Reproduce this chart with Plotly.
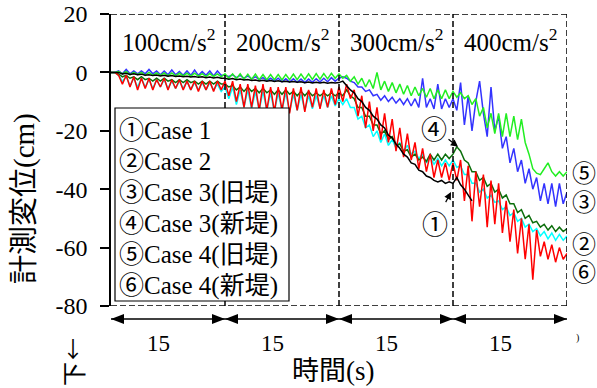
import plotly.graph_objects as go

# ---------------- data (cm), sampled every 0.5 s ----------------
dt = 0.5
segment_edges = [0, 15, 30, 45, 60]
segment_labels = ["100cm/s<sup>2</sup>", "200cm/s<sup>2</sup>", "300cm/s<sup>2</sup>", "400cm/s<sup>2</sup>"]
segment_durations = ["15", "15", "15", "15"]
y_ticks = [20, 0, -20, -40, -60, -80]
y_tick_labels = ["20", "0", "-20", "-40", "-60", "-80"]

# Case 1 (black)
black_s1 = [0, 0, 0, -0.5, -0.3, -0.7, -0.5, -0.8, -0.6, -1, -0.8, -1.1, -0.9, -1.2, -1, -1.3, -1.1, -1.4, -1.2, -1.5, -1.3, -1.6, -1.4, -1.7, -1.5, -1.8, -1.6, -1.9, -1.7, -2]
black_s2 = [-2, -2.3, -2.1, -2.5, -2.3, -2.6, -2.4, -2.8, -2.6, -2.9, -2.7, -3, -2.8, -3.1, -2.9, -3.2, -3, -3.3, -3.1, -3.4, -3.2, -3.5, -3.3, -3.6, -3.4, -3.6, -3.4, -3.7, -3.5, -3.6]
black_s3 = [-3.5, -3, -4.5, -6, -7, -9, -10, -12, -13, -15, -16, -18, -19, -21.5, -22.5, -24.5, -26, -28, -29, -31, -31.5, -33.5, -34, -35.5, -36, -37, -37.5, -37, -38, -37.5]
black_s4 = [-38, -36, -38.5, -40, -42, -44]

# Case 2 (cyan)
cyan_s1 = [0, 0, -1, -3, -1.5, -4.5, -2, -5, -2, -5, -2.5, -5.5, -2.5, -5, -2.5, -5.5, -3, -5.5, -3, -5.5, -3, -6, -3.5, -6, -3.5, -6, -3.5, -6, -4, -6.5]
cyan_s2 = [-5, -9, -5, -11, -6, -12, -6, -12.5, -6.5, -13, -6.5, -13, -7, -13.5, -7, -13, -7, -13.5, -7.5, -13, -7.5, -13, -8, -12.5, -8, -12, -8, -12, -8, -11.5]
cyan_s3 = [-9, -11, -9, -12, -12, -16, -15, -19, -18, -22, -20, -24, -21, -25, -23, -26, -24, -27, -25, -28, -27, -29.5, -28, -31, -29, -31.5, -29.5, -32, -30, -32]
cyan_s4 = [-30, -32.5, -32, -35, -35, -38, -38, -41, -40, -43, -42, -44.5, -44, -47, -46, -49, -48, -51, -50, -53, -52, -54.5, -53.5, -56, -54.5, -57, -55, -57.5, -55.5, -57.5, -56]

# Case 3 old levee (blue)
blue_s1 = [0, 0, 0.5, -0.5, 1, -0.5, 0.5, -0.5, 0.5, -0.5, 1, -0.5, 0.5, -0.8, 0.5, -0.8, 0.8, -0.8, 0.3, -1, 0.5, -1, 0.8, -1, 0.3, -1, 0.5, -1.2, 0.5, -1]
blue_s2 = [-1, -1.5, -0.8, -1.8, -1, -2, -1.2, -2.2, -1.5, -2.5, -1.8, -2.8, -2, -3, -2, -3.2, -2.2, -3.3, -2.2, -3.4, -2.3, -3.5, -2.3, -3.4, -2.2, -3.3, -2, -3.2, -1.8, -3]
blue_s3 = [-2, -1.5, -2, -3, -3.5, -5, -5, -6.5, -6, -8, -7.5, -9.5, -8, -10, -8.5, -10.5, -9, -11, -9, -11.5, -9, -12, -2, -12, -9, -12.5, -4, -12.5, -9, -12]
blue_s4 = [-9, -13, -3.5, -18, -8, -20, -10, -3, -14, -22, -5, -20, -15, -26, -22, -31, -26, -34, -30, -38, -33, -40, -36, -44, -38, -45, -38, -46, -38, -45, -41]

# Case 3 new levee (dark green)
dgreen_s1 = [0, 0, -0.5, -1.5, -1, -2, -1.5, -2.5, -1.5, -2.5, -2, -3, -2, -3, -2, -3, -2.5, -3.5, -2.5, -3.5, -2.5, -3.5, -3, -4, -3, -4, -3, -4, -3, -4]
dgreen_s2 = [-4, -5, -4.5, -6, -5, -6.5, -5, -6.5, -5.5, -7, -5.5, -7, -6, -7.5, -6, -7.5, -6, -7.5, -6.5, -8, -6.5, -8, -6.5, -8, -7, -8, -7, -8, -7, -8]
dgreen_s3 = [-7, -8, -6, -8, -9, -12, -12, -15, -15, -18, -18, -21, -20, -23, -22, -25, -24.5, -27, -26.5, -29, -28, -30, -29, -30.5, -28, -30, -28, -30, -28, -29.5]
dgreen_s4 = [-28, -25.5, -27, -30, -31, -34, -34, -37, -36, -39, -38, -41, -40, -43, -42, -45, -45, -48, -47, -50, -49, -51.5, -51, -53, -52, -54, -52.5, -54.5, -53, -54.5, -53.5]

# Case 4 old levee (lime)
lime_s1 = [0, 0, 0.3, -0.5, 0.3, -0.8, 0, -0.8, 0, -1, 0, -1, -0.2, -1, -0.2, -1.2, -0.2, -1.2, -0.3, -1.2, -0.3, -1.3, -0.3, -1.3, -0.4, -1.4, -0.4, -1.4, -0.5, -1.5]
lime_s2 = [-0.5, -2, -0.5, -2.2, -0.5, -2.3, -0.6, -2.4, -0.6, -2.5, -0.7, -2.5, -0.7, -2.5, -0.7, -2.6, -0.7, -2.5, -0.6, -2.5, -0.6, -2.4, -0.5, -2.4, -0.4, -2.3, -0.4, -2.2, -0.3, -2]
lime_s3 = [-0.5, -2, -1, -3, -1.5, -4, -2, -5, -2.5, -5.5, 0, -6, -3, -6.5, -3.5, -7, -4, -7.5, -4.5, -8, -5, -8, -5.5, -8.5, -5.5, -9, -6, -9, -6, -9]
lime_s4 = [-6.5, -8.5, -7, -9, -8, -11, -9, -15, -12, -19, -14, -21, -14, -22, -14, -22, -15, -23, -16, -24, -28, -33, -34.5, -35, -33, -31, -34, -35.5, -34, -35.5, -34]

# Case 4 new levee (red)
red_s1 = [0, 0, -1, -4, -1, -5, -1.5, -6, -2, -5.5, -2, -6, -2.5, -5, -2, -6, -2.5, -5.5, -2.5, -6, -3, -6, -3, -6.5, -3, -6, -3, -6.5, -3, -6]
red_s2 = [-3, -8, -3, -10, -4, -12, -4, -12, -4.5, -13, -4, -13, -5, -13.5, -5, -13, -5, -14, -5.5, -13, -5, -13.5, -6, -12, -5.5, -12.5, -6, -12, -5.5, -11]
red_s3 = [-5, -10, -4, -9, -6, -15, -8, -19, -10, -20, -12, -23, -14, -24, -16, -27, -19, -29, -21, -30, -24, -33, -26, -34, -28, -36, -30, -36, -31, -37]
red_s4 = [-31, -37, -30, -44, -32, -51, -34, -46, -35, -53, -37, -52, -38, -55, -44, -58, -47, -62, -50, -64, -52, -71, -54, -63, -58, -64, -59, -65, -60, -64, -62]

case1 = black_s1 + black_s2 + black_s3 + black_s4
case2 = cyan_s1 + cyan_s2 + cyan_s3 + cyan_s4
case3_old = blue_s1 + blue_s2 + blue_s3 + blue_s4
case3_new = dgreen_s1 + dgreen_s2 + dgreen_s3 + dgreen_s4
case4_old = lime_s1 + lime_s2 + lime_s3 + lime_s4
case4_new = red_s1 + red_s2 + red_s3 + red_s4

legend_marks = ["①", "②", "③", "④", "⑤", "⑥"]
legend_cases = ["Case 1", "Case 2", "Case 3", "Case 3", "Case 4", "Case 4"]
legend_levees = ["", "", "旧堤", "新堤", "旧堤", "新堤"]
end_labels = ["⑤", "③", "②", "⑥"]
end_label_px = [171, 200, 242, 270]

SERIF = "Liberation Serif"
CJK = "Noto Sans CJK JP"

def cjk(s):
    return "<span style=\"font-family:'Noto Sans CJK JP'\">" + s + "</span>"

# drawing order (bottom -> top)
series = [
    (case2, "#00FFFF"),
    (case3_new, "#0B6E0B"),
    (case4_new, "#FF0000"),
    (case3_old, "#3333FF"),
    (case4_old, "#22EE22"),
    (case1, "#000000"),
]

fig = go.Figure()
for vals, col in series:
    t = [i * dt for i in range(len(vals))]
    fig.add_trace(go.Scatter(x=t, y=vals, mode="lines",
                             line=dict(color=col, width=1.5), showlegend=False))

# plot area in pixels: x 111..567, y 14..306
L, R, T, B = 111, 567, 14, 306
def px_x(p):
    return (p - L) / (R - L)
def px_y(p):
    return (B - p) / (B - T)

shapes = []
dash = dict(color="black", width=1.5, dash="6px,3px")
shapes.append(dict(type="line", xref="x", yref="y", x0=segment_edges[0], x1=segment_edges[-1], y0=20, y1=20, line=dash))
shapes.append(dict(type="line", xref="x", yref="y", x0=segment_edges[0], x1=segment_edges[-1], y0=-80, y1=-80, line=dash))
for e in segment_edges[1:]:
    shapes.append(dict(type="line", xref="x", yref="y", x0=e, x1=e, y0=-80, y1=20, line=dash))

# double arrows below the plot
ay = px_y(319)
shapes.append(dict(type="line", xref="x", yref="paper", x0=segment_edges[0], x1=segment_edges[-1],
                   y0=ay, y1=ay, line=dict(color="black", width=1.5)))
for a, b in zip(segment_edges[:-1], segment_edges[1:]):
    shapes.append(dict(type="path", xref="x", yref="paper", xsizemode="pixel", ysizemode="pixel",
                       xanchor=a, yanchor=ay, path="M0,0 L13,5 L13,-5 Z",
                       fillcolor="black", line=dict(width=0)))
    shapes.append(dict(type="path", xref="x", yref="paper", xsizemode="pixel", ysizemode="pixel",
                       xanchor=b, yanchor=ay, path="M0,0 L-13,5 L-13,-5 Z",
                       fillcolor="black", line=dict(width=0)))

# legend box
shapes.append(dict(type="rect", xref="paper", yref="paper", x0=px_x(115), x1=px_x(289),
                   y0=px_y(301), y1=px_y(108), line=dict(color="black", width=1.2),
                   fillcolor="white", layer="above"))

def txt(x, y, text, size, family=SERIF, xref="paper", yref="paper", xanchor="center", **kw):
    d = dict(x=x, y=y, xref=xref, yref=yref, text=text, showarrow=False,
             xanchor=xanchor, yanchor="middle", font=dict(family=family, size=size, color="black"))
    d.update(kw)
    return d

ann = []
for a, b, lab in zip(segment_edges[:-1], segment_edges[1:], segment_labels):
    ann.append(txt((a + b) / 2, px_y(40), lab, 25, xref="x"))
for a, b, lab in zip(segment_edges[:-1], segment_edges[1:], segment_durations):
    ann.append(txt((a + b) / 2, px_y(343), lab, 23, xref="x", xshift=-10))
for i, (m, c, lev) in enumerate(zip(legend_marks, legend_cases, legend_levees)):
    text = cjk(m) + c + ("(" + cjk(lev) + ")" if lev else "")
    ann.append(txt(px_x(117), px_y(128 + 31 * i), text, 25, xanchor="left"))
for lab, p in zip(end_labels, end_label_px):
    ann.append(txt(px_x(584), px_y(p), lab, 24, family=CJK))
# pointers
ann.append(dict(x=45.66, y=-25.5, xref="x", yref="y", text="④", showarrow=True, ax=-24, ay=-19,
                arrowhead=2, arrowsize=1.2, arrowwidth=1.2, arrowcolor="black", standoff=0,
                font=dict(family=CJK, size=26, color="black")))
ann.append(dict(x=44.74, y=-41.0, xref="x", yref="y", text="①", showarrow=True, ax=-16, ay=30,
                arrowhead=2, arrowsize=1.2, arrowwidth=1.2, arrowcolor="black", standoff=0,
                font=dict(family=CJK, size=26, color="black")))
# axis titles
ann.append(txt(px_x(21), px_y(199), cjk("計測変位") + "(cm)", 29, textangle=-90))
ann.append(txt(px_x(73), px_y(347), "↓", 22, family=CJK))
ann.append(txt(px_x(72), px_y(374), "下", 24, family=CJK, textangle=-90))
ann.append(txt(px_x(333), px_y(368), cjk("時間") + "(s)", 27))
ann.append(txt(px_x(577), px_y(338), ")", 10))

fig.update_layout(
    width=597, height=388,
    margin=dict(l=L, r=597 - R, t=T, b=388 - B, pad=0, autoexpand=False),
    plot_bgcolor="white", paper_bgcolor="white",
    shapes=shapes, annotations=ann, showlegend=False,
    xaxis=dict(range=[segment_edges[0], segment_edges[-1]], showgrid=False, zeroline=False,
               showticklabels=False, ticks="", showline=False, fixedrange=True, automargin=False),
    yaxis=dict(range=[-80, 20], tickvals=y_ticks, ticktext=y_tick_labels, ticks="outside",
               ticklen=9, tickwidth=1.5, tickcolor="black", showline=True, linecolor="black",
               linewidth=1.5, showgrid=False, zeroline=False, ticklabelstandoff=8, automargin=False,
               tickfont=dict(family=SERIF, size=24, color="black"), fixedrange=True),
)

fig.write_html("out.html", config={"displayModeBar": False},
               post_script="document.body.style.margin='0px';document.body.style.overflow='hidden';")
